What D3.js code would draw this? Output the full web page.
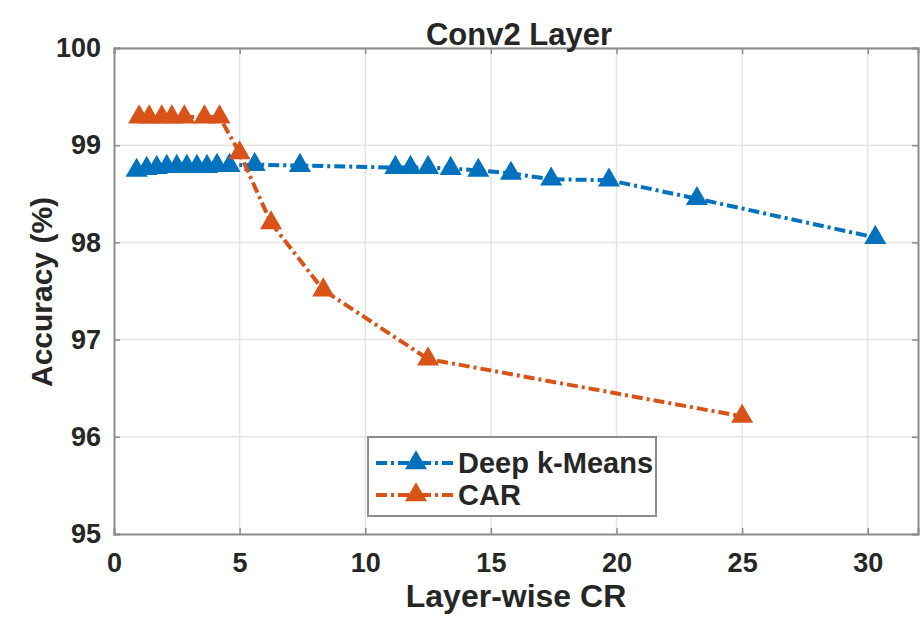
<!DOCTYPE html>
<html>
<head>
<meta charset="utf-8">
<script src="https://cdn.jsdelivr.net/npm/d3@7"></script>
<style>
  body { margin: 0; background: #fff; }
  text { font-family: "Liberation Sans", Arial, sans-serif; font-weight: bold; fill: #262626; }
</style>
</head>
<body>
<div id="chart"></div>
<script>
const kmeansCR = [0.9, 1.3, 1.7, 2.1, 2.5, 2.9, 3.3, 3.7, 4.1, 4.6, 5.6, 7.4, 11.2, 11.8, 12.5, 13.4, 14.5, 15.8, 17.4, 19.7, 23.2, 30.3]
const kmeansAcc = [98.74, 98.76, 98.77, 98.78, 98.78, 98.78, 98.78, 98.78, 98.79, 98.79, 98.8, 98.79, 98.77, 98.77, 98.77, 98.76, 98.74, 98.71, 98.65, 98.64, 98.45, 98.05]

const carCR = [1.0, 1.4, 1.9, 2.3, 2.8, 3.6, 4.2, 5.0, 6.25, 8.33, 12.5, 25]
const carAcc = [99.29, 99.29, 99.29, 99.29, 99.29, 99.29, 99.29, 98.92, 98.2, 97.51, 96.8, 96.21]

const xTicks = [0, 5, 10, 15, 20, 25, 30]
const yTicks = [95, 96, 97, 98, 99, 100]

const seriesNames = ['Deep k-Means', 'CAR']
const colors = ['#0072BD', '#D95319']

const width = 921
const height = 621
const margin = { top: 48, left: 114, right: 3, bottom: 87 }

const svg = d3
  .select('#chart')
  .append('svg')
  .attr('width', width)
  .attr('height', height)

const x = d3
  .scaleLinear()
  .domain([0, 32])
  .range([margin.left, width - margin.right])

const y = d3
  .scaleLinear()
  .domain([95, 100])
  .range([height - margin.bottom, margin.top])

// grid
svg
  .append('g')
  .selectAll('line')
  .data(xTicks.slice(1))
  .enter()
  .append('line')
  .attr('x1', d => x(d))
  .attr('x2', d => x(d))
  .attr('y1', y(95))
  .attr('y2', y(100))
  .attr('stroke', '#e4e4e4')
  .attr('stroke-width', 1.5)

svg
  .append('g')
  .selectAll('line')
  .data(yTicks.slice(1))
  .enter()
  .append('line')
  .attr('x1', x(0))
  .attr('x2', x(32))
  .attr('y1', d => y(d))
  .attr('y2', d => y(d))
  .attr('stroke', '#e4e4e4')
  .attr('stroke-width', 1.5)

// axes (matlab box, ticks inside)
const tickLen = 6
const xAxisB = d3.axisBottom(x).tickValues(xTicks).tickSize(-tickLen).tickPadding(19).tickFormat(d3.format('d'))
const xAxisT = d3.axisTop(x).tickValues(xTicks).tickSize(-tickLen).tickFormat('')
const yAxisL = d3.axisLeft(y).tickValues(yTicks).tickSize(-tickLen).tickPadding(13).tickFormat(d3.format('d'))
const yAxisR = d3.axisRight(y).tickValues(yTicks).tickSize(-tickLen).tickFormat('')

function styleAxis(g) {
  g.select('.domain').attr('stroke', '#8c8c8c').attr('stroke-width', 2)
  g.selectAll('.tick line').attr('stroke', '#8c8c8c').attr('stroke-width', 1.5)
  g.selectAll('.tick text')
    .attr('font-size', 27)
    .attr('font-family', '"Liberation Sans", Arial, sans-serif')
    .attr('font-weight', 'bold')
    .attr('fill', '#262626')
}

svg.append('g').attr('transform', `translate(0,${y(95)})`).call(xAxisB).call(styleAxis)
svg.append('g').attr('transform', `translate(0,${y(100)})`).call(xAxisT).call(styleAxis)
svg.append('g').attr('transform', `translate(${x(0)},0)`).call(yAxisL).call(styleAxis)
svg.append('g').attr('transform', `translate(${x(32)},0)`).call(yAxisR).call(styleAxis)

// series
const tri = d3.symbol().type(d3.symbolTriangle).size(150)

const series = [
  kmeansCR.map((c, i) => ({ cr: c, acc: kmeansAcc[i] })),
  carCR.map((c, i) => ({ cr: c, acc: carAcc[i] }))
]

const line = d3
  .line()
  .x(d => x(d.cr))
  .y(d => y(d.acc))

series.forEach((s, k) => {
  svg
    .append('path')
    .datum(s)
    .attr('d', line)
    .attr('fill', 'none')
    .attr('stroke', colors[k])
    .attr('stroke-width', 4)
    .attr('stroke-dasharray', '11,4,3,4')

  svg
    .append('g')
    .selectAll('path')
    .data(s)
    .enter()
    .append('path')
    .attr('d', tri)
    .attr('transform', d => `translate(${x(d.cr)},${y(d.acc)})`)
    .attr('fill', colors[k])
    .attr('stroke', colors[k])
    .attr('stroke-width', 2)
})

// legend
const legend = svg.append('g').attr('transform', 'translate(368,437)')
legend
  .append('rect')
  .attr('width', 288)
  .attr('height', 79)
  .attr('fill', '#fff')
  .attr('stroke', '#8c8c8c')
  .attr('stroke-width', 2)

seriesNames.forEach((name, k) => {
  const ly = 26 + k * 32
  legend
    .append('line')
    .attr('x1', 8)
    .attr('x2', 88)
    .attr('y1', ly)
    .attr('y2', ly)
    .attr('stroke', colors[k])
    .attr('stroke-width', 4)
    .attr('stroke-dasharray', '11,4,3,4')
  legend
    .append('path')
    .attr('d', tri)
    .attr('transform', `translate(48,${ly})`)
    .attr('fill', colors[k])
    .attr('stroke', colors[k])
    .attr('stroke-width', 2)
  legend
    .append('text')
    .attr('x', 90)
    .attr('y', ly + 10)
    .attr('font-size', 29)
    .text(name)
})

// titles
svg
  .append('text')
  .attr('x', 519)
  .attr('y', 45)
  .attr('text-anchor', 'middle')
  .attr('font-size', 31)
  .text('Conv2 Layer')

svg
  .append('text')
  .attr('x', 516)
  .attr('y', 607)
  .attr('text-anchor', 'middle')
  .attr('font-size', 32)
  .text('Layer-wise CR')

svg
  .append('text')
  .attr('transform', 'translate(52,292) rotate(-90)')
  .attr('text-anchor', 'middle')
  .attr('font-size', 30)
  .text('Accuracy (%)')
</script>
</body>
</html>
